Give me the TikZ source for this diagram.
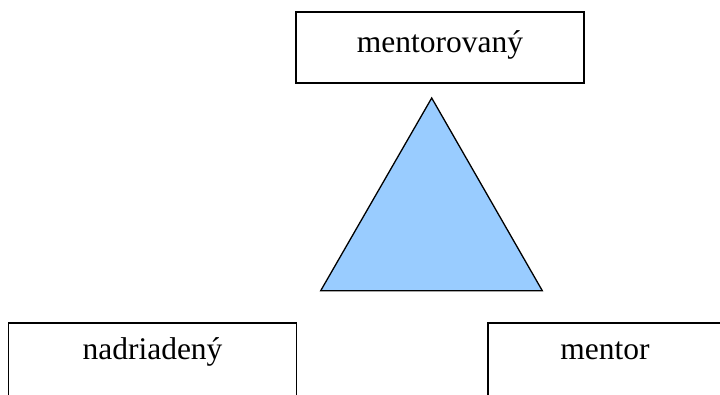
\documentclass[tikz,border=0pt]{standalone}
\usepackage{fontspec}
\setmainfont{Liberation Serif}
\usetikzlibrary{positioning}

\tikzset{
  role/.style={draw,line width=1.6pt,minimum height=71pt,inner sep=0pt,
    text height=22pt,text depth=7pt,font=\fontsize{31.5}{36}\selectfont},
}

\begin{document}
\begin{tikzpicture}[x=1pt,y=-1pt]
		\useasboundingbox (0,0) rectangle (720,394);
		\clip (0,0) rectangle (720,394);
		
		\node[role,minimum width=288pt] (n1) at (440,47.5) {\raisebox{3pt}{mentorovaný}};
		\node[role,minimum width=288pt,minimum height=76pt] (n2) at (152.5,361) {\raisebox{9pt}{nadriadený}};
		\node[role,minimum width=234pt,minimum height=76pt] (n3) at (605,361) {\raisebox{9pt}{mentor}};
		
		\filldraw[fill={rgb,255:red,153;green,204;blue,255},line width=1.3pt,line join=miter]
		  (431.7,98) -- (542.3,290.7) -- (320.7,290.7) -- cycle;
		\end{tikzpicture}
\end{document}
